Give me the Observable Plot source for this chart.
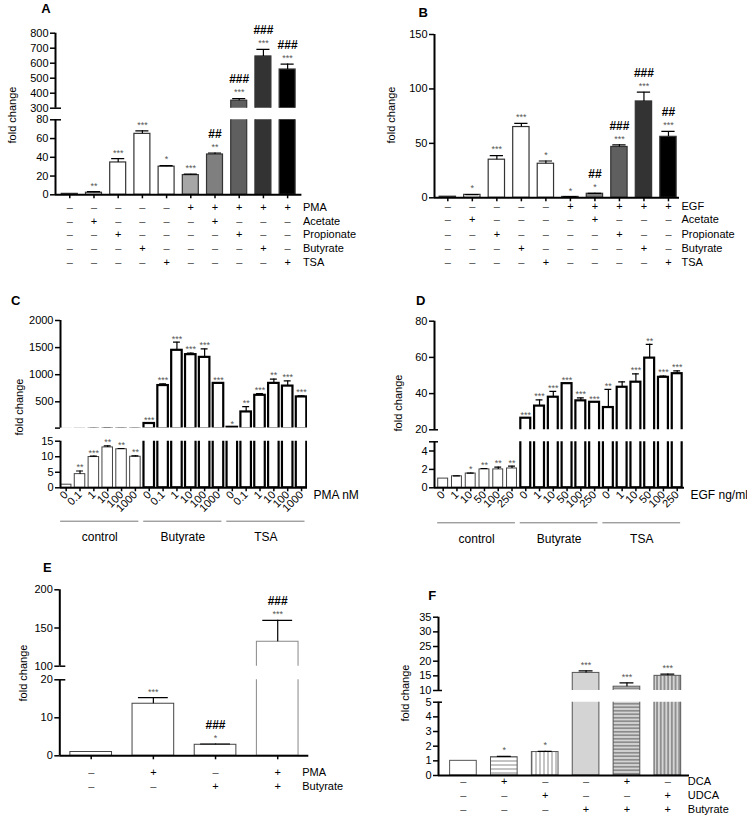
<!DOCTYPE html>
<html><head><meta charset="utf-8">
<script src="https://cdn.jsdelivr.net/npm/d3@7"></script>
<script src="https://cdn.jsdelivr.net/npm/@observablehq/plot@0.6"></script>
<style>
html,body{margin:0;padding:0;background:#fff;}
#fig{position:relative;width:747px;height:822px;overflow:hidden;background:#fff;font-family:'Liberation Sans',Arial,Helvetica,sans-serif;}
#fig svg{position:absolute;}
.lbl{position:absolute;white-space:nowrap;color:#000;line-height:1;}
</style></head><body><div id="fig"></div>
<script>
// ===================== DATA =====================
const panelLetters = ["A", "B", "C", "D", "E", "F"];
const yTitle = "fold change";

// Panel A (PMA)
const valA  = [1, 2.2, 34.5, 65, 30, 21, 43, 350, 645, 558];
const errA  = [0, 1.1, 4, 3.2, 1.2, 1, 1.6, 14, 47, 36];
const starA = ["", "**", "***", "***", "*", "***", "**", "***", "***", "***"];
const hashA = ["", "", "", "", "", "", "##", "###", "###", "###"];
const ticksAlow = [0, 20, 40, 60, 80];
const ticksAup = [300, 400, 500, 600, 700, 800];
const rowNamesA = ["PMA", "Acetate", "Propionate", "Butyrate", "TSA"];
const rowsA = [
  [0,0,0,0,0,1,1,1,1,1],
  [0,1,0,0,0,0,1,0,0,0],
  [0,0,1,0,0,0,0,1,0,0],
  [0,0,0,1,0,0,0,0,1,0],
  [0,0,0,0,1,0,0,0,0,1]
];

// Panel B (EGF)
const valB  = [1, 2.7, 35, 65, 31.3, 0.8, 3.7, 46.7, 88.5, 56];
const errB  = [0, 0.3, 3.8, 3.3, 2.5, 0.2, 0.4, 2, 8.5, 5];
const starB = ["", "*", "***", "***", "*", "*", "*", "***", "***", "***"];
const hashB = ["", "", "", "", "", "", "##", "###", "###", "##"];
const ticksB = [0, 50, 100, 150];
const rowNamesB = ["EGF", "Acetate", "Propionate", "Butyrate", "TSA"];
const rowsB = [
  [0,0,0,0,0,1,1,1,1,1],
  [0,1,0,0,0,0,1,0,0,0],
  [0,0,1,0,0,0,0,1,0,0],
  [0,0,0,1,0,0,0,0,1,0],
  [0,0,0,0,1,0,0,0,0,1]
];

// Panels C & D groups
const groupsCD = ["control", "Butyrate", "TSA"];

// Panel C (PMA dose)
const dosesC = ["0", "0.1", "1", "10", "100", "1000"];
const ctrlC = [1, 4.4, 9.9, 13, 12.4, 10];
const ctrlCerr = [0, 1.0, 0.3, 0.5, 0.25, 0.3];
const ctrlCstar = ["", "**", "***", "**", "**", "**"];
const butC = [100, 800, 1450, 1370, 1320, 840];
const butCerr = [0, 30, 150, 30, 155, 0];
const butCstar = ["***", "***", "***", "***", "***", "***"];
const tsaC = [30, 313, 620, 840, 790, 590];
const tsaCerr = [0, 100, 30, 80, 95, 20];
const tsaCstar = ["*", "**", "***", "**", "***", "***"];
const ticksClow = [0, 5, 10, 15];
const ticksCup = [15, 500, 1000, 1500, 2000];
const ticksCupLabels = [500, 1000, 1500, 2000];
const unitC = "PMA nM";

// Panel D (EGF dose)
const dosesD = ["0", "1", "10", "50", "100", "250"];
const ctrlD = [1, 1.25, 1.55, 2.0, 2.0, 2.1];
const ctrlDerr = [0, 0.05, 0.05, 0.1, 0.25, 0.25];
const ctrlDstar = ["", "", "*", "**", "**", "**"];
const butD = [26.4, 33.1, 38, 45.5, 36, 35.2];
const butDerr = [0, 3.4, 3.2, 0, 1.6, 0];
const butDstar = ["***", "***", "***", "***", "***", "***"];
const tsaD = [32.3, 43.5, 46.3, 59.6, 49, 51];
const tsaDerr = [10, 3, 4.6, 7.6, 0.7, 1.6];
const tsaDstar = ["**", "", "***", "**", "***", "***"];
const ticksDlow = [0, 2, 4, 5];
const ticksDlowLabels = [0, 2, 4];
const ticksDup = [20, 40, 60, 80];
const unitD = "EGF ng/ml";

// Panel E
const valE  = [1, 13.7, 2.9, 132];
const errE  = [0, 1.6, 0.2, 28];
const starE = ["", "***", "*", "***"];
const hashE = ["", "", "###", "###"];
const ticksElow = [0, 10, 20];
const ticksEup = [100, 150, 200];
const rowNamesE = ["PMA", "Butyrate"];
const rowsE = [[0,1,0,1], [0,0,1,1]];

// Panel F
const valF  = [1, 1.25, 1.6, 16, 11.3, 15];
const errF  = [0, 0.05, 0.05, 0.7, 1.3, 0.6];
const starF = ["", "*", "*", "***", "***", "***"];
const ticksFlow = [0, 1, 2, 3, 4, 5];
const ticksFup = [10, 15, 20, 25, 30, 35];
const rowNamesF = ["DCA", "UDCA", "Butyrate"];
const rowsF = [[0,1,0,0,1,0], [0,0,1,0,0,1], [0,0,0,1,1,1]];

// ===================== STYLES =====================
const FONT = "'Liberation Sans', Arial, Helvetica, sans-serif";
const STYLE = {fontFamily: FONT, fontSize: "11px", background: "transparent", overflow: "visible", color: "#000"};
const fillAB = ["#fff", "#fff", "#fff", "#fff", "#fff", "#a6a6a6", "#7f7f7f", "#5f5f5f", "#333", "#000"];
const fillF = ["#fff", "url(#fH1)", "url(#fV1)", "#d4d4d4", "url(#fH2)", "url(#fV2)"];

const fig = document.getElementById("fig");

// stripe patterns for panel F
const defsSvg = d3.create("svg").attr("width", 0).attr("height", 0).style("left", "0px").style("top", "0px");
const defs = defsSvg.append("defs");
function stripe(id, bg, fg, horizontal, gap) {
  const p = defs.append("pattern").attr("id", id).attr("patternUnits", "userSpaceOnUse").attr("width", gap).attr("height", gap);
  p.append("rect").attr("width", gap).attr("height", gap).attr("fill", bg);
  if (horizontal) p.append("line").attr("x1", 0).attr("x2", gap).attr("y1", gap / 2).attr("y2", gap / 2).attr("stroke", fg).attr("stroke-width", 1);
  else p.append("line").attr("y1", 0).attr("y2", gap).attr("x1", gap / 2).attr("x2", gap / 2).attr("stroke", fg).attr("stroke-width", 1);
}
stripe("fH1", "#fff", "#8a8a8a", true, 4);
stripe("fV1", "#fff", "#8a8a8a", false, 4);
stripe("fH2", "#d4d4d4", "#555", true, 3.5);
stripe("fV2", "#d4d4d4", "#555", false, 3.7);
fig.appendChild(defsSvg.node());

// ===================== HELPERS =====================
function mkBars(vals, errs, stars, hashes, fills, strokes, sws) {
  return vals.map((v, i) => ({i, v, e: errs[i], star: stars[i] || "", hash: hashes ? (hashes[i] || "") : "", fill: fills[i], stroke: strokes[i], sw: sws[i]}));
}

function segPlot(c) {
  const [fx0, fx1, fy0, fy1] = c.frame;
  const [lo, hi] = c.yDomain;
  const bars = c.bars;
  const tip = d => d.v + d.e;
  const shown = d => tip(d) >= lo && tip(d) <= hi;
  const errs = bars.filter(d => d.e > 0);
  const labels = c.yLabels || c.yTicks;
  const marks = [
    Plot.rect(bars, {x1: d => d.i - c.halfW, x2: d => d.i + c.halfW, y1: 0, y2: "v", fill: "fill", stroke: "stroke", strokeWidth: "sw", clip: true}),
    Plot.ruleX(errs, {x: "i", y1: "v", y2: tip, stroke: "#000", strokeWidth: 1.2, clip: true}),
    Plot.ruleY(errs, {y: tip, x1: d => d.i - c.capW, x2: d => d.i + c.capW, stroke: "#000", strokeWidth: 1.2, clip: true}),
    Plot.text(bars.filter(d => d.star && shown(d)), {x: "i", y: tip, text: "star", dy: c.starDy, fontSize: 9, fill: "#555"}),
    Plot.text(bars.filter(d => d.hash && shown(d)), {x: "i", y: tip, text: "hash", dy: c.hashDy, fontSize: 12, fontWeight: "bold", fill: "#000"}),
    Plot.ruleX([c.xDomain[0]], {stroke: "#000", strokeWidth: 2}),
    Plot.axisY({ticks: c.yTicks, tickFormat: d => labels.includes(d) ? String(d) : "", tickSize: 5, tickPadding: 2, fontSize: 11, strokeWidth: 1.5, label: null})
  ];
  // short serif on the axis at the break
  const breakAt = c.lower ? (c.broken ? hi : null) : lo;
  if (breakAt !== null) {
    marks.push(Plot.ruleY([breakAt], {x1: c.xDomain[0], x2: c.xDomain[0] + c.serif, stroke: "#000", strokeWidth: 1.5}));
  }
  let hasXAxis = false;
  if (c.lower) {
    marks.push(Plot.ruleY([lo], {stroke: "#000", strokeWidth: 2}));
    if (c.xAxis !== null) {
      marks.push(c.xAxis || Plot.axisX({ticks: d3.range(bars.length), tickSize: 4, tickFormat: () => "", strokeWidth: 1.5, label: null}));
      hasXAxis = true;
    }
  }
  marks.push(...(c.extra || []));
  const svg = Plot.plot({
    width: c.width, height: c.height,
    marginLeft: fx0 - c.left, marginRight: c.left + c.width - fx1,
    marginTop: fy0 - c.top, marginBottom: c.top + c.height - fy1,
    x: hasXAxis ? {domain: c.xDomain, label: null} : {domain: c.xDomain, label: null, axis: null},
    y: {domain: c.yDomain, label: null},
    color: {type: "identity"},
    style: STYLE,
    marks
  });
  svg.style.left = c.left + "px";
  svg.style.top = c.top + "px";
  fig.appendChild(svg);
}

function tableMarks(rows, names, dys, labelDx) {
  const m = [];
  rows.forEach((row, r) => {
    const cells = row.map((on, i) => ({i, on}));
    m.push(Plot.text(cells.filter(d => !d.on), {x: "i", text: () => "\u2013", frameAnchor: "bottom", dy: dys[r], fontSize: 11, fill: "#444"}));
    m.push(Plot.text(cells.filter(d => d.on), {x: "i", text: () => "+", frameAnchor: "bottom", dy: dys[r], fontSize: 11, fill: "#000"}));
    m.push(Plot.text([names[r]], {frameAnchor: "bottom-right", text: d => d, dx: labelDx, dy: dys[r], textAnchor: "start", fontSize: 11, fill: "#000"}));
  });
  return m;
}

function groupMarks(groups, dyLine, dyText) {
  const gs = groups.map((name, k) => ({name, a: k * 6 - 0.4, b: k * 6 + 5.25}));
  return [
    Plot.ruleY(gs, {y: () => 0, x1: "a", x2: "b", dy: dyLine, stroke: "#777", strokeWidth: 1}),
    Plot.text(gs, {x: d => (d.a + d.b) / 2, y: () => 0, text: "name", dy: dyText, fontSize: 12, fill: "#000"})
  ];
}

function htmlLabel(text, cx, cy, size, weight, rot) {
  const d = document.createElement("div");
  d.className = "lbl";
  d.textContent = text;
  d.style.fontSize = size + "px";
  d.style.fontWeight = weight;
  d.style.left = cx + "px";
  d.style.top = cy + "px";
  d.style.transform = `translate(-50%,-50%) rotate(${rot}deg)`;
  fig.appendChild(d);
}

// ===================== PANEL A =====================
const barsA = mkBars(valA, errA, starA, hashA, fillAB, valA.map(() => "#333"), valA.map(() => 1.2));
const xA = {xDomain: [-0.59, 9.59], halfW: 0.33, capW: 0.27, starDy: -6, hashDy: -19, bars: barsA, serif: 6 / 24.2, broken: true};
segPlot({...xA, left: 0, top: 0, width: 374, height: 112, frame: [55, 301.4, 32.7, 107.7], yDomain: [300, 800], yTicks: ticksAup});
segPlot({...xA, left: 0, top: 112, width: 374, height: 166, frame: [55, 301.4, 119.3, 194.3], yDomain: [0, 80], yTicks: ticksAlow, lower: true,
  extra: tableMarks(rowsA, rowNamesA, [15.7, 29.7, 43.4, 57.4, 71.4], 1)});

// ===================== PANEL B =====================
const barsB = mkBars(valB, errB, starB, hashB, fillAB, valB.map(() => "#333"), valB.map(() => 1.2));
segPlot({xDomain: [-0.543, 9.45], halfW: 0.333, capW: 0.27, starDy: -6, hashDy: -19, bars: barsB, serif: 0, broken: false,
  left: 374, top: 0, width: 373, height: 280, frame: [434, 679, 34, 197.3], yDomain: [0, 150], yTicks: ticksB, lower: true,
  extra: tableMarks(rowsB, rowNamesB, [12, 25.4, 40.4, 54.4, 68.4], 2)});

// ===================== PANEL C =====================
const strokesCD = d3.range(18).map(i => i < 6 ? "#444" : "#000");
const swCD = d3.range(18).map(i => i < 6 ? 1 : 2.2);
const barsC = mkBars([...ctrlC, ...butC, ...tsaC], [...ctrlCerr, ...butCerr, ...tsaCerr], [...ctrlCstar, ...butCstar, ...tsaCstar], null,
  d3.range(18).map(() => "#fff"), strokesCD, swCD);
const xC = {xDomain: [-0.41, 17.43], halfW: 0.38, capW: 0.25, starDy: -3.5, hashDy: -15, bars: barsC, serif: 0, broken: true};
segPlot({...xC, left: 0, top: 280, width: 374, height: 152, frame: [60, 307, 320, 427.6], yDomain: [15, 2000], yTicks: ticksCup, yLabels: ticksCupLabels});
segPlot({...xC, left: 0, top: 432, width: 374, height: 118, frame: [60, 307, 440.7, 487.3], yDomain: [0, 15], yTicks: ticksClow, lower: true,
  xAxis: Plot.axisX({ticks: d3.range(18), tickFormat: i => dosesC[i % 6], tickRotate: -45, tickSize: 4, tickPadding: 1, fontSize: 11, strokeWidth: 1.5, label: null}),
  extra: [
    ...groupMarks(groupsCD, 33.4, 49.4),
    Plot.text([unitC], {frameAnchor: "bottom-right", text: d => d, dx: 6, dy: 11, textAnchor: "start", fontSize: 12, fill: "#000"})
  ]});

// ===================== PANEL D =====================
const barsD = mkBars([...ctrlD, ...butD, ...tsaD], [...ctrlDerr, ...butDerr, ...tsaDerr], [...ctrlDstar, ...butDstar, ...tsaDstar], null,
  d3.range(18).map(() => "#fff"), strokesCD, swCD);
const xD = {xDomain: [-0.63, 17.53], halfW: 0.36, capW: 0.25, starDy: -3.5, hashDy: -15, bars: barsD, serif: 4 / 13.76, broken: true};
segPlot({...xD, left: 374, top: 280, width: 373, height: 152, frame: [434, 684, 320.7, 429.3], yDomain: [20, 80], yTicks: ticksDup});
segPlot({...xD, left: 374, top: 432, width: 373, height: 118, frame: [434, 684, 441.3, 487.3], yDomain: [0, 5], yTicks: ticksDlow, yLabels: ticksDlowLabels, lower: true,
  xAxis: Plot.axisX({ticks: d3.range(18), tickFormat: i => dosesD[i % 6], tickRotate: -45, tickSize: 4, tickPadding: 1, fontSize: 11, strokeWidth: 1.5, label: null}),
  extra: [
    ...groupMarks(groupsCD, 35, 51),
    Plot.text([unitD], {frameAnchor: "bottom-right", text: d => d, dx: 6, dy: 11, textAnchor: "start", fontSize: 12, fill: "#000"})
  ]});

// ===================== PANEL E =====================
const barsE = mkBars(valE, errE, starE, hashE, valE.map(() => "#fff"), ["#444", "#444", "#444", "#888"], valE.map(() => 1));
const xE = {xDomain: [-0.505, 3.5], halfW: 0.335, capW: 0.24, starDy: -6, hashDy: -19, bars: barsE, serif: 6 / 62.2, broken: true};
segPlot({...xE, left: 0, top: 550, width: 374, height: 119, frame: [59.3, 308.3, 589.3, 665.7], yDomain: [100, 200], yTicks: ticksEup});
segPlot({...xE, left: 0, top: 669, width: 374, height: 153, frame: [59.3, 308.3, 679.3, 755.3], yDomain: [0, 20], yTicks: ticksElow, lower: true,
  extra: tableMarks(rowsE, rowNamesE, [20.4, 34], -6.6)});

// ===================== PANEL F =====================
const barsF = mkBars(valF, errF, starF, null, fillF, valF.map(() => "#555"), valF.map(() => 1));
const xF = {xDomain: [-0.61, 5.53], halfW: 0.326, capW: 0.17, starDy: -6, hashDy: -19, bars: barsF, serif: 4 / 40.9, broken: true};
segPlot({...xF, left: 374, top: 550, width: 373, height: 145, frame: [438, 689, 616.7, 690], yDomain: [10, 35], yTicks: ticksFup});
segPlot({...xF, left: 374, top: 695, width: 373, height: 127, frame: [438, 689, 701.7, 775], yDomain: [0, 5], yTicks: ticksFlow, lower: true, xAxis: null,
  extra: tableMarks(rowsF, rowNamesF, [9.3, 23.3, 37.3], -1.7)});

// ===================== LABELS =====================
const letterPos = [[46, 8.3], [423.3, 11.7], [15.7, 300], [420.7, 300], [47.3, 566.7], [432.3, 595]];
const titlePos = [[12, 115], [390.7, 115], [19, 406.7], [398, 403], [22.7, 673.3], [404.7, 693.3]];
panelLetters.forEach((t, k) => htmlLabel(t, letterPos[k][0], letterPos[k][1], 13, "bold", 0));
titlePos.forEach(p => htmlLabel(yTitle, p[0], p[1], 11, "normal", -90));
</script>
</body></html>
